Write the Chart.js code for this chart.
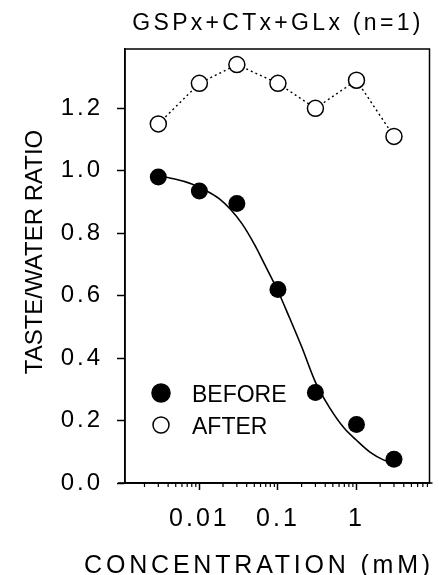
<!DOCTYPE html>
<html>
<head>
<meta charset="utf-8">
<script src="https://cdn.jsdelivr.net/npm/chart.js@4/dist/chart.umd.min.js"></script>
<style>
  html, body { margin: 0; padding: 0; background: #fff; }
  canvas { display: block; }
</style>
</head>
<body>
<canvas id="chart" width="439" height="575"></canvas>
<script>
// --- データ ---
const titleText = "GSPx+CTx+GLx (n=1)";
const xTitle = "CONCENTRATION (mM)";
const yTitle = "TASTE/WATER RATIO";

const concentrations = [0.003, 0.01, 0.03, 0.1, 0.3, 1, 3];
const beforeRatio = [0.98, 0.935, 0.895, 0.62, 0.29, 0.187, 0.076];
const afterRatio = [1.15, 1.28, 1.34, 1.28, 1.20, 1.29, 1.11];

// フィット曲線
const fitConc = [0.003, 0.005, 0.008, 0.012, 0.018, 0.025, 0.035, 0.05, 0.07, 0.1, 0.14, 0.2, 0.3, 0.45, 0.7, 1.0, 1.5, 2.2, 3.0];
const fitRatio = [0.983, 0.973, 0.958, 0.937, 0.91, 0.876, 0.83, 0.765, 0.693, 0.615, 0.53, 0.437, 0.323, 0.243, 0.175, 0.137, 0.098, 0.074, 0.062];

const xMajorTicks = [0.01, 0.1, 1];
const xTickLabels = ["0.01", "0.1", "1"];
const yTickValues = [0, 0.2, 0.4, 0.6, 0.8, 1.0, 1.2];
const yTickLabels = ["0.0", "0.2", "0.4", "0.6", "0.8", "1.0", "1.2"];

const legendLabels = ["BEFORE", "AFTER"];

const X_MIN = 0.00113, X_MAX = 8.5;
const Y_MIN = 0, Y_MAX = 1.39;

// 小目盛り（2..9 x 10^n）
const xMinorTicks = [0.001, 0.01, 0.1, 1]
  .flatMap(b => [2, 3, 4, 5, 6, 7, 8, 9].map(m => m * b))
  .filter(v => v > X_MIN && v < X_MAX && !xMajorTicks.some(t => Math.abs(t - v) < 1e-12));

const FONT = "'Liberation Sans', Arial, sans-serif";

function pts(xs, ys) {
  return xs.map((x, i) => ({ x: x, y: ys[i] }));
}

// --- 枠・凡例・タイトル描画 ---
const decorPlugin = {
  id: "decor",
  beforeDraw(chart) {
    chart.ctx.letterSpacing = "3px";
  },
  afterDraw(chart) {
    const ctx = chart.ctx;
    const a = chart.chartArea;
    const xs = chart.scales.x;
    ctx.save();
    ctx.strokeStyle = "#000";
    ctx.lineWidth = 1.5;
    ctx.strokeRect(a.left, a.top, a.right - a.left, a.bottom - a.top);
    // x軸線（左右に少し延長）
    ctx.beginPath();
    ctx.moveTo(a.left - 7, a.bottom);
    ctx.lineTo(a.right + 3, a.bottom);
    ctx.stroke();
    // 小目盛り
    ctx.lineWidth = 1.2;
    for (const v of xMinorTicks) {
      const px = xs.getPixelForValue(v);
      ctx.beginPath();
      ctx.moveTo(px, a.bottom);
      ctx.lineTo(px, a.bottom + 4);
      ctx.stroke();
    }

    ctx.fillStyle = "#000";
    // タイトル
    ctx.font = "23px " + FONT;
    ctx.letterSpacing = "3.3px";
    ctx.textAlign = "center";
    ctx.textBaseline = "alphabetic";
    ctx.fillText(titleText, a.left + 153, 30);

    // x軸タイトル
    ctx.font = "25px " + FONT;
    ctx.letterSpacing = "3.8px";
    ctx.fillText(xTitle, a.left + 134, 573);

    // y軸タイトル
    ctx.save();
    ctx.translate(42, (a.top + a.bottom) / 2 - 14);
    ctx.rotate(-Math.PI / 2);
    ctx.font = "24px " + FONT;
    ctx.letterSpacing = "0px";
    ctx.fillText(yTitle, 0, 0);
    ctx.restore();

    // 凡例
    const items = [
      { ds: chart.data.datasets[0], y: a.bottom - 90 },
      { ds: chart.data.datasets[1], y: a.bottom - 58 }
    ];
    ctx.textAlign = "left";
    ctx.font = "23px " + FONT;
    ctx.letterSpacing = "0px";
    items.forEach((it, i) => {
      const cx = a.left + 36;
      ctx.beginPath();
      ctx.arc(cx, it.y, i === 0 ? 9 : 8, 0, Math.PI * 2);
      ctx.fillStyle = it.ds.pointBackgroundColor;
      ctx.fill();
      ctx.lineWidth = 1.5;
      ctx.strokeStyle = "#000";
      ctx.stroke();
      ctx.fillStyle = "#000";
      ctx.fillText(legendLabels[i], a.left + 67, it.y + 8.5);
    });
    ctx.restore();
  }
};

const chart = new Chart(document.getElementById("chart").getContext("2d"), {
  type: "scatter",
  data: {
    datasets: [
      {
        label: legendLabels[0],
        data: pts(concentrations, beforeRatio),
        showLine: false,
        pointRadius: 8.5,
        pointBackgroundColor: "#000",
        pointBorderColor: "#000",
        pointBorderWidth: 0,
        order: 1
      },
      {
        label: legendLabels[1],
        data: pts(concentrations, afterRatio),
        showLine: true,
        borderColor: "#000",
        borderWidth: 1.4,
        borderDash: [2, 3],
        tension: 0,
        pointRadius: 8,
        pointBackgroundColor: "#fff",
        pointBorderColor: "#000",
        pointBorderWidth: 1.5,
        order: 1
      },
      {
        label: "fit",
        data: pts(fitConc, fitRatio),
        showLine: true,
        borderColor: "#000",
        borderWidth: 1.6,
        pointRadius: 0,
        cubicInterpolationMode: "monotone",
        order: 2
      }
    ]
  },
  options: {
    responsive: false,
    animation: false,
    layout: { padding: { top: 49, right: 4, left: 0, bottom: 0 } },
    plugins: {
      legend: { display: false },
      title: { display: false },
      tooltip: { enabled: false }
    },
    scales: {
      x: {
        type: "logarithmic",
        min: X_MIN,
        max: X_MAX,
        afterBuildTicks: (s) => {
          s.ticks = xMajorTicks.map(v => ({ value: v, major: true }));
        },
        afterFit: (s) => { s.height = 92; },
        grid: {
          display: true,
          drawOnChartArea: false,
          drawTicks: true,
          tickLength: 7,
          tickWidth: 1.5,
          tickColor: "#000",
          color: "#000"
        },
        border: { display: true, color: "#000", width: 1.5 },
        ticks: {
          autoSkip: false,
          maxRotation: 0,
          padding: 14,
          color: "#000",
          font: { family: FONT, size: 25 },
          callback: (v, i) => xTickLabels[i]
        }
      },
      y: {
        type: "linear",
        min: Y_MIN,
        max: Y_MAX,
        afterBuildTicks: (s) => {
          s.ticks = yTickValues.map(v => ({ value: v }));
        },
        afterFit: (s) => { s.width = 125; },
        grid: {
          display: true,
          drawOnChartArea: false,
          drawTicks: true,
          tickLength: 8,
          tickWidth: 1.5,
          tickColor: "#000",
          color: "#000"
        },
        border: { display: true, color: "#000", width: 1.5 },
        ticks: {
          padding: 14,
          color: "#000",
          font: { family: FONT, size: 24 },
          callback: (v, i) => yTickLabels[i]
        }
      }
    }
  },
  plugins: [decorPlugin]
});
</script>
</body>
</html>
